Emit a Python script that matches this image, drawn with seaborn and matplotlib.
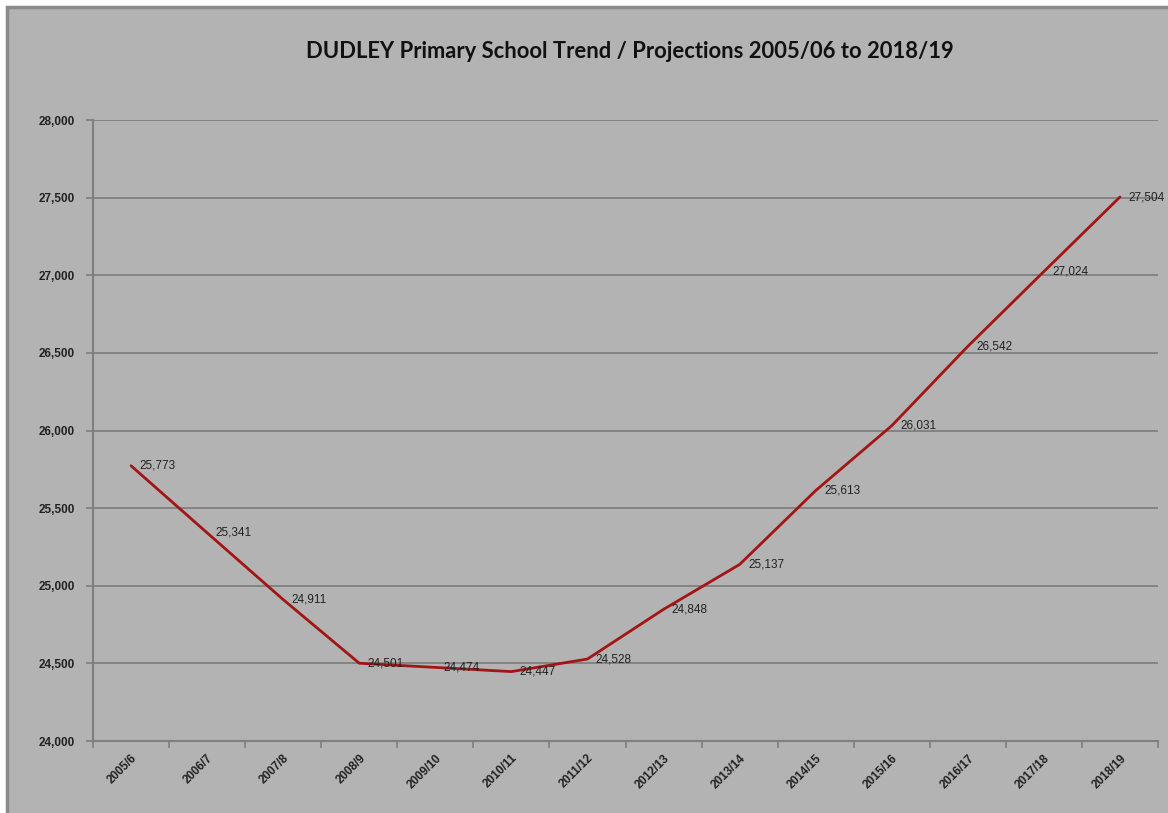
import numpy as np
import pandas as pd
import matplotlib
matplotlib.use("Agg")
import matplotlib.pyplot as plt
import seaborn as sns

# school years and pupil numbers (trend + projections)
years = ["2005/6", "2006/7", "2007/8", "2008/9", "2009/10", "2010/11", "2011/12",
         "2012/13", "2013/14", "2014/15", "2015/16", "2016/17", "2017/18", "2018/19"]
pupils = [25773, 25341, 24911, 24501, 24474, 24447, 24528,
          24848, 25137, 25613, 26031, 26542, 27024, 27504]
y_ticks = [24000, 24500, 25000, 25500, 26000, 26500, 27000, 27500, 28000]

bg = "#b3b3b3"
grid_c = "#7f7f7f"
line_c = "#a31515"

sns.set_theme(style="white")
plt.rcParams['font.family'] = ['Liberation Sans', 'DejaVu Sans']

df = pd.DataFrame({"year": years, "pupils": pupils})

fig = plt.figure(figsize=(11.68, 8.13), dpi=100, facecolor="white")
# grey chart area with a dark edge, leaving a thin white margin top/left
fig.patches.append(plt.Rectangle((7 / 1168, -0.01), 1.02, 1 - 7 / 813 + 0.01,
                                 transform=fig.transFigure, facecolor=bg,
                                 edgecolor="#8a8a8a", linewidth=2.5, zorder=-10))
ax = fig.add_axes([93 / 1168, 1 - 741 / 813, (1158 - 93) / 1168, (741 - 120) / 813])
ax.set_facecolor(bg)

sns.lineplot(data=df, x="year", y="pupils", ax=ax, color=line_c, linewidth=2,
             sort=False, zorder=3)

for i, v in enumerate(pupils):
    ax.annotate(f"{v:,}", (i, v), xytext=(6, 0), textcoords="offset points",
                ha="left", va="center", fontsize=8.5, color="#222222",
                zorder=4, annotation_clip=False)

ax.set_ylim(24000, 28000)
ax.set_yticks(y_ticks)
ax.set_yticklabels([f"{t:,}" for t in y_ticks], fontsize=8.5, color="#222222",
                   fontweight="bold")
ax.yaxis.grid(True, color=grid_c, linewidth=1.3)
ax.set_axisbelow(True)

ax.set_xlim(-0.5, len(years) - 0.5)
ax.set_xticks(range(len(years)))
ax.set_xticklabels(years, rotation=45, ha="right", rotation_mode="anchor",
                   fontsize=8.5, color="#222222", fontweight="bold")
ax.set_xticks(np.arange(-0.5, len(years)), minor=True)
ax.tick_params(axis="x", which="major", length=0, pad=8)
ax.tick_params(axis="x", which="minor", length=5, width=1.2, color=grid_c,
               direction="out", bottom=True)
ax.tick_params(axis="y", which="major", length=5, width=1.2, color=grid_c,
               direction="out", left=True, pad=8)

for side in ["top", "right"]:
    ax.spines[side].set_visible(False)
for side in ["left", "bottom"]:
    ax.spines[side].set_color(grid_c)
    ax.spines[side].set_linewidth(1.5)

ax.set_xlabel("")
ax.set_ylabel("")

fig.text(630 / 1168, 1 - 51 / 813,
         "DUDLEY Primary School Trend / Projections 2005/06 to 2018/19",
         ha="center", va="center", fontsize=15.8, fontweight="bold",
         family="Lato", color="#111111")

fig.savefig("out.png", dpi=100, facecolor="white")
